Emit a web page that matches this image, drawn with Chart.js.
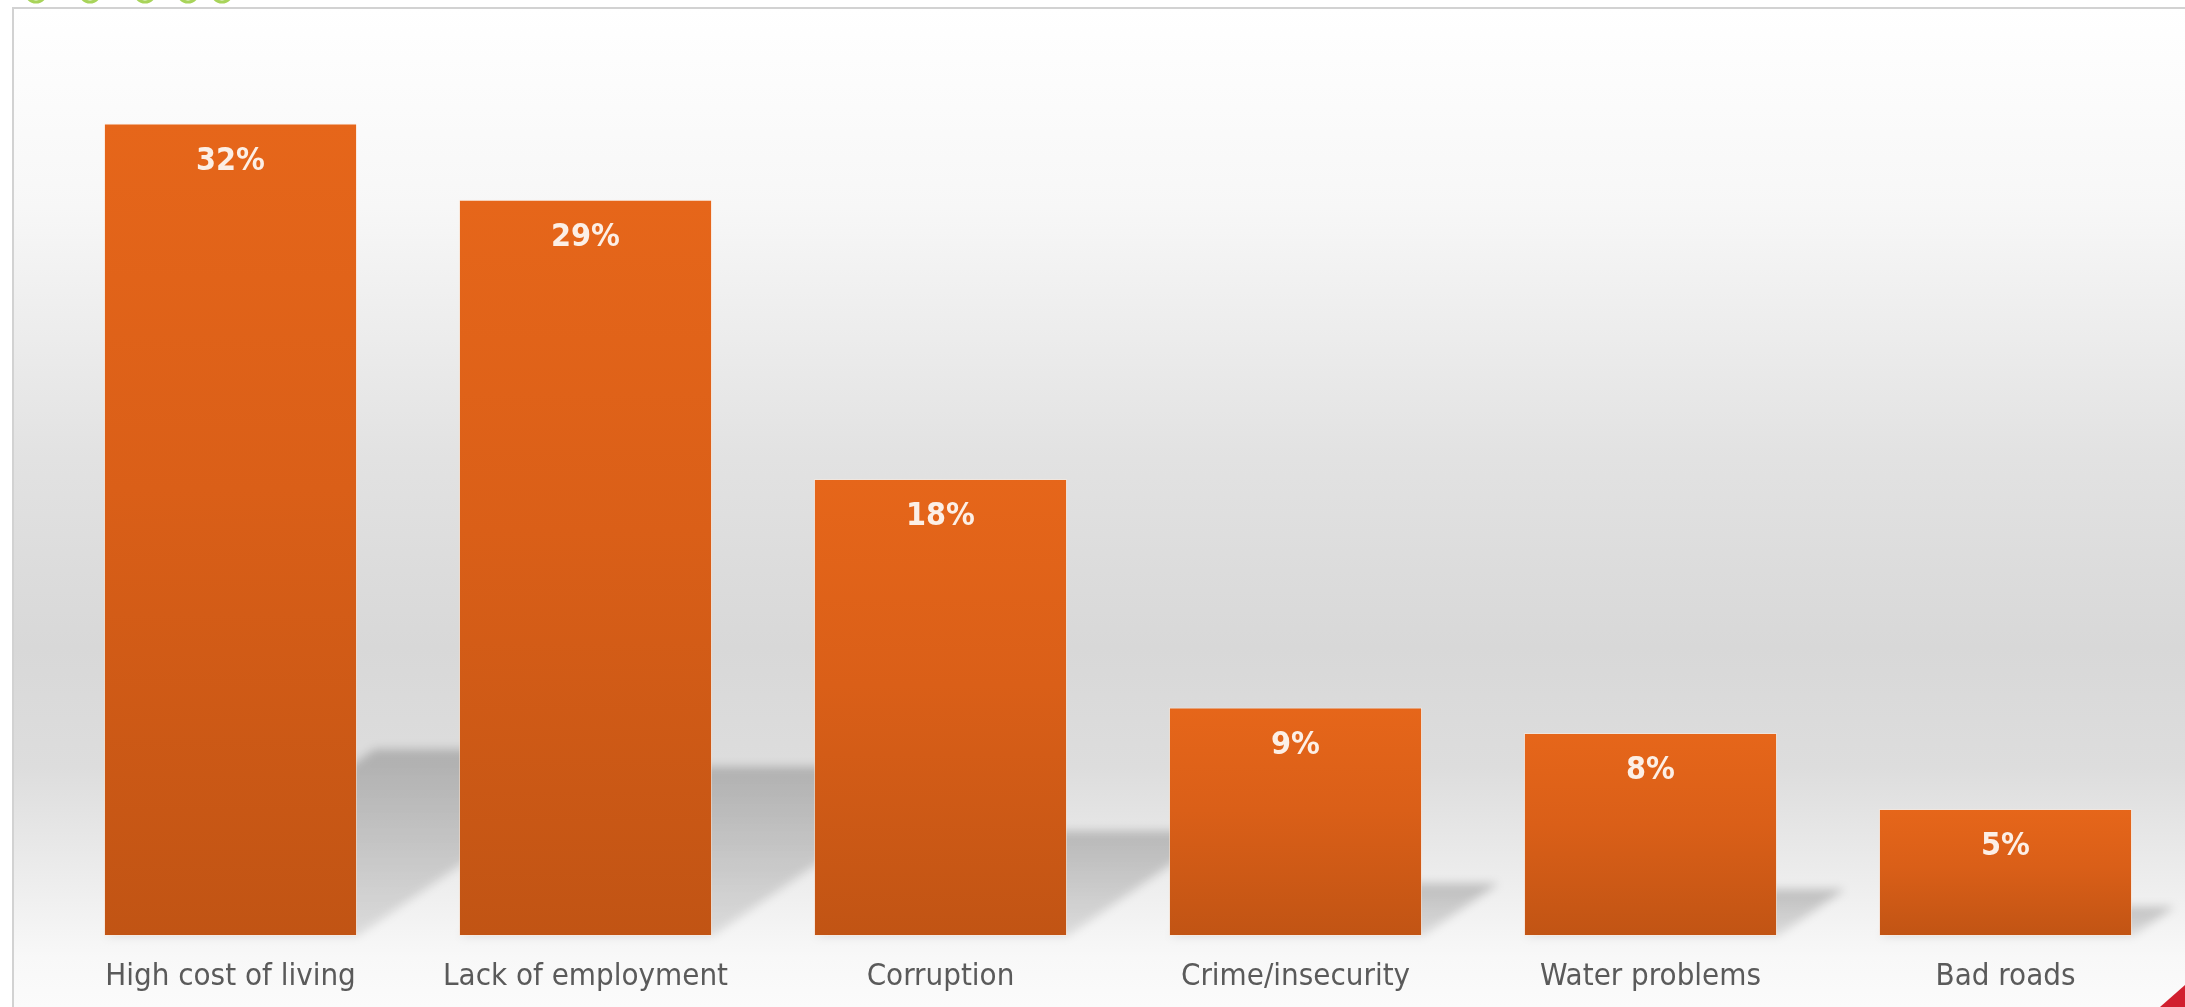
<!DOCTYPE html>
<html><head><meta charset="utf-8">
<script src="https://cdn.jsdelivr.net/npm/chart.js@4/dist/chart.umd.min.js"></script>
<style>html,body{margin:0;padding:0;background:#fff;overflow:hidden}#wrap{width:2185px;height:1007px;position:relative}canvas{display:block}</style>
</head><body><div id="wrap"><canvas id="c" width="2185" height="1007"></canvas></div>
<script>
const categories = ['High cost of living', 'Lack of employment', 'Corruption', 'Crime/insecurity', 'Water problems', 'Bad roads'];
const values = [32, 29, 18, 9, 8, 5];
const valueLabels = ['32%', '29%', '18%', '9%', '8%', '5%'];
const yMin = 0;
const yMax = 36;

const FONT = '"DejaVu Sans Condensed", "DejaVu Sans", sans-serif';

const backgroundPlugin = {
  id: 'bg',
  beforeDraw(chart) {
    const ctx = chart.ctx, W = chart.width, H = chart.height;
    ctx.save();
    ctx.fillStyle = '#ffffff';
    ctx.fillRect(0, 0, W, H);
    const g = ctx.createLinearGradient(0, 8, 0, H);
    g.addColorStop(0.00, '#ffffff');
    g.addColorStop(0.20, '#f7f7f7');
    g.addColorStop(0.45, '#e2e2e2');
    g.addColorStop(0.64, '#d8d8d8');
    g.addColorStop(0.76, '#dddddd');
    g.addColorStop(0.88, '#eeeeee');
    g.addColorStop(0.95, '#f8f8f8');
    g.addColorStop(1.00, '#fbfbfb');
    ctx.fillStyle = g;
    ctx.fillRect(13, 8, W - 13, H - 8);
    // frame
    ctx.strokeStyle = '#d2d2d2';
    ctx.lineWidth = 2;
    ctx.beginPath();
    ctx.moveTo(13, H);
    ctx.lineTo(13, 8);
    ctx.lineTo(W, 8);
    ctx.stroke();
    // green partial title marks above frame
    ctx.strokeStyle = '#a8d45a';
    ctx.lineWidth = 3;
    [36, 90, 145, 188, 222].forEach(cx => {
      ctx.beginPath();
      ctx.arc(cx, -8, 10, 0, Math.PI);
      ctx.stroke();
    });
    ctx.restore();
  },
  beforeDatasetsDraw(chart) {
    const ctx = chart.ctx;
    const meta = chart.getDatasetMeta(0);
    ctx.save();
    ctx.filter = 'blur(5px)';
    meta.data.forEach(el => {
      const left = el.x - el.width / 2, right = el.x + el.width / 2;
      const base = el.base;
      const h = (base - el.y) * 0.23;
      const dx = h * 1.45;
      const g = ctx.createLinearGradient(0, base - h, 0, base);
      g.addColorStop(0, 'rgba(0,0,0,0.20)');
      g.addColorStop(1, 'rgba(0,0,0,0.10)');
      ctx.fillStyle = g;
      ctx.beginPath();
      ctx.moveTo(left, base);
      ctx.lineTo(right, base);
      ctx.lineTo(right + dx, base - h);
      ctx.lineTo(left + dx, base - h);
      ctx.closePath();
      ctx.fill();
    });
    ctx.restore();
  },
  afterDatasetsDraw(chart) {
    const ctx = chart.ctx;
    const meta = chart.getDatasetMeta(0);
    ctx.save();
    ctx.fillStyle = '#fcefe6';
    ctx.font = 'bold 32px ' + FONT;
    ctx.textAlign = 'center';
    ctx.textBaseline = 'middle';
    meta.data.forEach((el, i) => {
      ctx.fillText(valueLabels[i], el.x, el.y + 38);
    });
    ctx.restore();
  },
  afterDraw(chart) {
    const ctx = chart.ctx, W = chart.width, H = chart.height;
    ctx.save();
    ctx.fillStyle = '#d1202f';
    ctx.beginPath();
    ctx.moveTo(W - 25, H);
    ctx.lineTo(W, H - 22);
    ctx.lineTo(W, H);
    ctx.closePath();
    ctx.fill();
    ctx.restore();
  }
};

function barGradient(context) {
  const chart = context.chart;
  const ys = chart.scales.y;
  if (!ys || !chart.chartArea) return '#d85e18';
  const v = context.raw;
  const top = ys.getPixelForValue(v);
  const bottom = ys.getPixelForValue(0);
  if (!isFinite(top) || !isFinite(bottom) || top === bottom) return '#d85e18';
  const g = chart.ctx.createLinearGradient(0, top, 0, bottom);
  g.addColorStop(0, '#e6661a');
  g.addColorStop(0.45, '#da5f18');
  g.addColorStop(1, '#c15414');
  return g;
}

new Chart(document.getElementById('c'), {
  type: 'bar',
  data: {
    labels: categories,
    datasets: [{
      data: values,
      backgroundColor: barGradient,
      borderColor: 'rgba(255,235,220,0.55)',
      borderWidth: 1,
      borderSkipped: false,
      categoryPercentage: 1.0,
      barPercentage: 0.713
    }]
  },
  options: {
    responsive: false,
    devicePixelRatio: 1,
    animation: false,
    layout: { padding: { left: 53, right: 2, top: 22, bottom: 0 } },
    plugins: { legend: { display: false }, tooltip: { enabled: false }, title: { display: false } },
    scales: {
      x: {
        grid: { display: false },
        border: { display: false },
        afterFit(scale) { scale.height = 71; },
        ticks: {
          color: '#5a5a5a',
          font: { family: FONT, size: 31 },
          padding: 14,
          maxRotation: 0,
          autoSkip: false
        }
      },
      y: { display: false, min: yMin, max: yMax }
    }
  },
  plugins: [backgroundPlugin]
});
</script>
</body></html>
